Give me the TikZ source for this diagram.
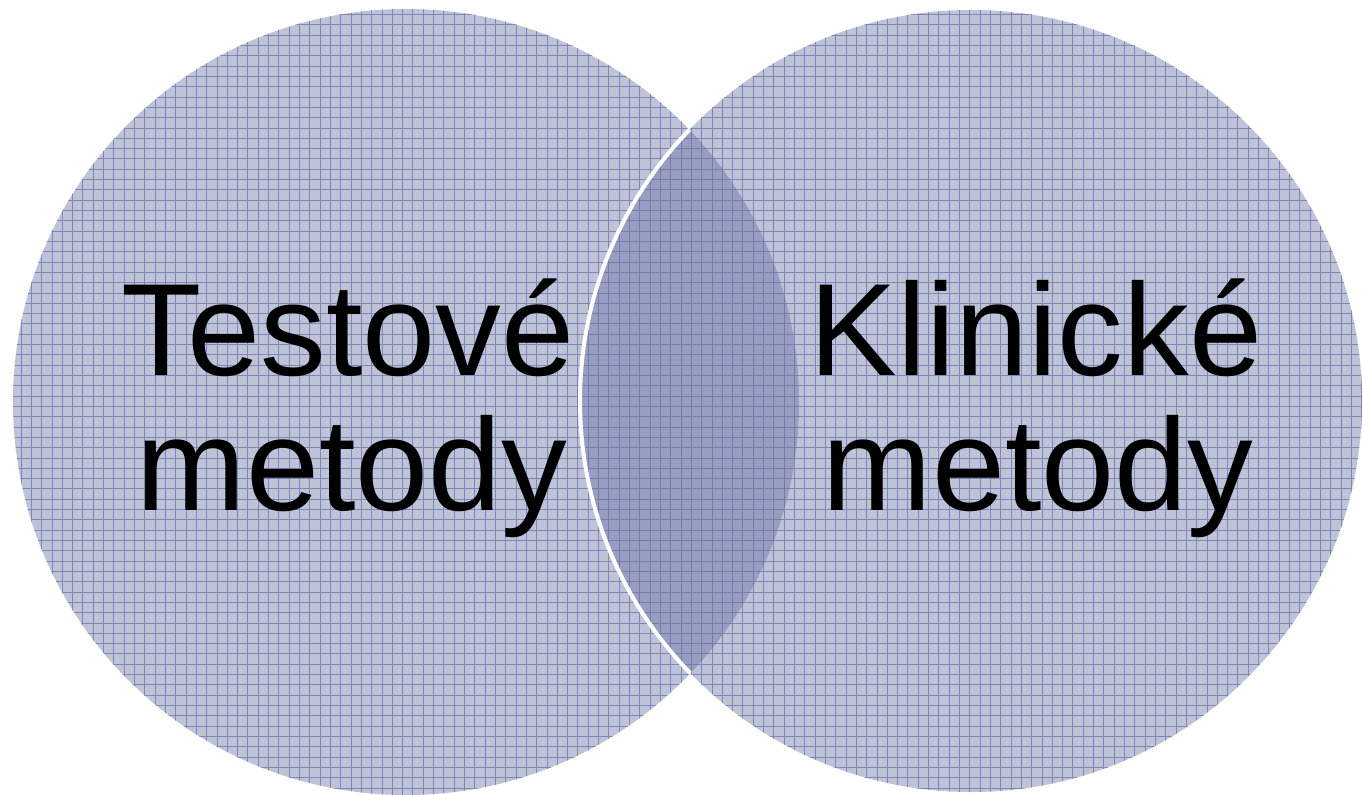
\documentclass[tikz,border=0pt]{standalone}
\usepackage{fontspec}
\setmainfont{Liberation Sans}
\definecolor{discfill}{RGB}{191,195,215}
\definecolor{lensfill}{RGB}{152,158,193}
\definecolor{gridline}{RGB}{128,134,182}
\definecolor{lensgrid}{RGB}{118,124,170}
\begin{document}
\begin{tikzpicture}[x=0.75pt,y=-0.75pt,
  label/.style={font=\fontsize{98.5}{98.5}\selectfont, inner sep=0pt, anchor=base, text=black},
  gridpen/.style={draw=gridline, line width=0.65pt}]
\useasboundingbox (0,0) rectangle (1363,795);
% two overlapping discs
\def\leftdisc{(406,402) circle (393)}
\def\rightdisc{(971,401) circle (391)}
\fill[discfill] \leftdisc;
\fill[discfill] \rightdisc;
% darker overlap
\begin{scope}
  \clip \leftdisc;
  \fill[lensfill] \rightdisc;
\end{scope}
% fine squared pattern over both discs
\begin{scope}
  \clip \leftdisc \rightdisc;
  \foreach \k in {0,...,132} {
    \draw[gridpen] ({0.4+\k*10.3125},0) -- ++(0,795);
  }
  \foreach \k in {0,...,77} {
    \draw[gridpen] (0,{4.2+\k*10.3125}) -- ++(1363,0);
  }
\end{scope}
% darker lines in the overlap
\begin{scope}
  \clip \leftdisc;
  \clip \rightdisc;
  \foreach \k in {0,...,132} {
    \draw[draw=lensgrid, line width=0.65pt] ({0.4+\k*10.3125},0) -- ++(0,795);
  }
  \foreach \k in {0,...,77} {
    \draw[draw=lensgrid, line width=0.65pt] (0,{4.2+\k*10.3125}) -- ++(1363,0);
  }
\end{scope}
% white rim of the right disc inside the left one
\begin{scope}
  \clip \leftdisc;
  \draw[white, line width=3pt] \rightdisc;
\end{scope}
% labels
\node[label] (test1) at (348,375) {Testové};
\node[label] (test2) at (352,510) {metody};
\node[label] (klin1) at (1036,375) {Klinické};
\node[label] (klin2) at (1038,510) {metody};
\end{tikzpicture}
\end{document}
